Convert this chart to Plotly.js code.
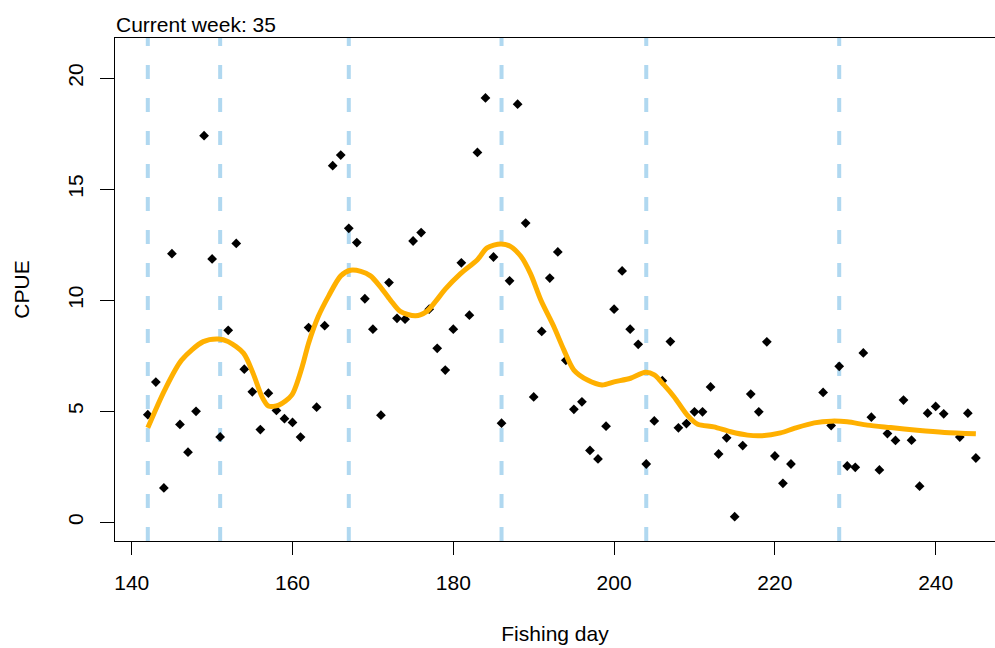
<!DOCTYPE html>
<html>
<head>
<meta charset="utf-8">
<script src="https://cdn.plot.ly/plotly-3.0.1.min.js"></script>
<style>
html, body { margin: 0; padding: 0; background: #fff; }
#chart { width: 995px; height: 648px; }
</style>
</head>
<body>
<div id="chart"></div>
<script>
// Observed CPUE by fishing day
const days = [142,143,144,145,146,147,148,149,150,151,152,153,154,155,156,157,158,159,160,161,
  162,163,164,165,166,167,168,169,170,171,172,173,174,175,176,177,178,179,180,181,
  182,183,184,185,186,187,188,189,190,191,192,193,194,195,196,197,198,199,200,201,
  202,203,204,205,206,207,208,209,210,211,212,213,214,215,216,217,218,219,220,221,
  222,226,227,228,229,230,231,232,233,234,235,236,237,238,239,240,241,243,244,245];
const cpue = [4.85,6.32,1.55,12.1,4.41,3.16,5.0,17.41,11.86,3.85,8.65,12.56,6.9,5.88,4.18,5.82,5.04,4.67,4.5,3.84,
  8.77,5.19,8.86,16.06,16.54,13.24,12.6,10.07,8.7,4.83,10.8,9.19,9.15,12.67,13.05,9.6,7.84,6.86,8.7,11.69,
  9.33,16.66,19.11,11.95,4.47,10.88,18.83,13.48,5.65,8.6,11.0,12.18,7.3,5.09,5.43,3.24,2.86,4.33,9.6,11.32,
  8.7,8.02,2.63,4.57,6.38,8.14,4.26,4.45,4.98,4.98,6.1,3.08,3.81,0.26,3.46,5.78,4.98,8.13,2.99,1.76,
  2.63,5.85,4.36,7.03,2.54,2.48,7.63,4.74,2.36,4.0,3.69,5.51,3.7,1.63,4.92,5.22,4.89,3.84,4.92,2.9];

// Smoothed curve
const curveDay = [142,144.1,146.2,148.9,150.8,152,153.9,155.1,156.2,157,158.3,159.9,161.2,162,163.2,164.5,166,167.2,168.5,169.7,
  170.9,172.2,173.4,175.3,176.7,177.8,179,180.9,183,184.2,185.9,187.1,188.4,189.6,190.9,192.5,193.75,195,196.7,198.5,
  200,202.05,203.9,205,206.2,207.45,209.1,210.4,212.4,214.5,216.6,218.2,220.7,222.4,224.9,227,229,231.5,234.4,237.7,241.1,245];
const curveCpue = [4.26,5.96,7.31,8.14,8.26,8.14,7.62,6.71,5.66,5.24,5.28,5.73,7.01,8.07,9.27,10.2,11.1,11.35,11.3,11.1,
  10.62,10.0,9.5,9.3,9.5,9.95,10.5,11.2,11.83,12.36,12.54,12.43,11.98,11.2,10.0,8.82,7.77,6.86,6.41,6.19,
  6.33,6.49,6.76,6.64,6.19,5.66,4.83,4.42,4.3,4.08,3.93,3.9,4.03,4.23,4.48,4.56,4.53,4.38,4.27,4.15,4.05,3.99];

// Week start days (vertical dashed lines)
const weekStarts = [142,151,167,186,204,228];

const xTicks = [140,160,180,200,220,240];
const yTicks = [0,5,10,15,20];
const titleText = 'Current week: 35';
const xTitle = 'Fishing day';
const yTitle = 'CPUE';

const FONT = 'Liberation Sans, Arial, Helvetica, sans-serif';

const traces = [
  {
    x: days, y: cpue, type: 'scatter', mode: 'markers',
    marker: { symbol: 'diamond', size: 7.5, color: '#000000', line: { width: 0 } },
    hoverinfo: 'x+y', showlegend: false
  },
  {
    x: curveDay, y: curveCpue, type: 'scatter', mode: 'lines',
    line: { color: '#FFB000', width: 5, shape: 'spline', smoothing: 0.8 },
    hoverinfo: 'skip', showlegend: false
  }
];

const shapes = weekStarts.map(d => ({
  type: 'line', layer: 'below', xref: 'x', yref: 'paper',
  x0: d, x1: d, y0: 0, y1: 1,
  line: { color: '#B0D8F0', width: 4, dash: '14px,19px' }
}));

const layout = {
  width: 995, height: 648,
  margin: { l: 115, r: 0, t: 38, b: 107, pad: 0 },
  paper_bgcolor: '#ffffff', plot_bgcolor: '#ffffff',
  font: { family: FONT, size: 21, color: '#000000' },
  showlegend: false,
  xaxis: {
    range: [137.92, 247.38], autorange: false,
    tickmode: 'array', tickvals: xTicks, ticktext: xTicks.map(String),
    ticks: 'outside', ticklen: 13, tickwidth: 1, tickcolor: '#000',
    showline: true, linecolor: '#000', linewidth: 1, mirror: true,
    showgrid: false, zeroline: false,
    tickfont: { family: FONT, size: 21, color: '#000' },
    ticklabelstandoff: 10,
    title: { text: xTitle, font: { family: FONT, size: 21, color: '#000' }, standoff: 33 }
  },
  yaxis: {
    range: [-0.837, 21.81], autorange: false,
    tickmode: 'array', tickvals: yTicks, ticktext: yTicks.map(String),
    tickangle: -90,
    ticks: 'outside', ticklen: 14, tickwidth: 1, tickcolor: '#000',
    showline: true, linecolor: '#000', linewidth: 1, mirror: false,
    showgrid: false, zeroline: false,
    tickfont: { family: FONT, size: 21, color: '#000' },
    ticklabelstandoff: 9,
    title: { text: yTitle, font: { family: FONT, size: 21, color: '#000' }, standoff: 28 }
  },
  shapes: shapes,
  annotations: [{
    text: titleText, xref: 'paper', yref: 'paper', x: 0, y: 1,
    xanchor: 'left', yanchor: 'bottom', showarrow: false, xshift: -1, yshift: 0,
    font: { family: FONT, size: 21, color: '#000' }
  }]
};

Plotly.newPlot('chart', traces, layout, { displayModeBar: false, staticPlot: true });
</script>
</body>
</html>
